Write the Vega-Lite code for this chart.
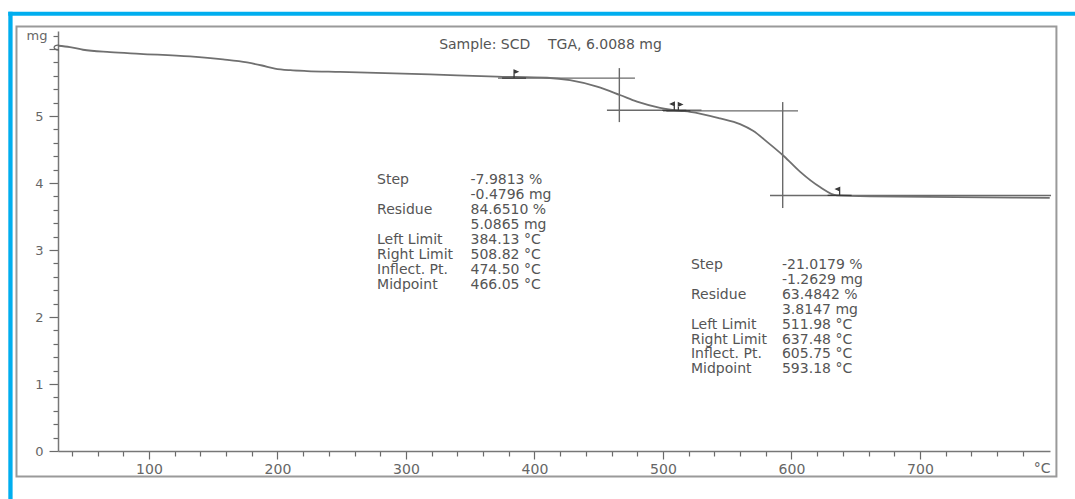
{
  "$schema": "https://vega.github.io/schema/vega-lite/v6.json",
  "width": 992,
  "height": 420,
  "autosize": {"type": "none"},
  "padding": {"left": 58, "top": 31, "right": 25, "bottom": 48},
  "background": "white",
  "config": {
    "view": {"stroke": null},
    "font": "DejaVu Sans",
    "text": {"font": "DejaVu Sans"}
  },
  "datasets": {
    "tga": [
      {"temp": 29.2, "mass": 6.05},
      {"temp": 38.5, "mass": 6.03},
      {"temp": 48.7, "mass": 5.99},
      {"temp": 69.7, "mass": 5.955},
      {"temp": 93.0, "mass": 5.93},
      {"temp": 131.9, "mass": 5.89},
      {"temp": 157.6, "mass": 5.845},
      {"temp": 176.3, "mass": 5.80},
      {"temp": 188.0, "mass": 5.755},
      {"temp": 198.0, "mass": 5.71},
      {"temp": 210.0, "mass": 5.685},
      {"temp": 223.0, "mass": 5.672},
      {"temp": 248.7, "mass": 5.66},
      {"temp": 318.7, "mass": 5.622},
      {"temp": 370.8, "mass": 5.59},
      {"temp": 409.8, "mass": 5.572},
      {"temp": 427.6, "mass": 5.537},
      {"temp": 448.7, "mass": 5.44},
      {"temp": 466.5, "mass": 5.315},
      {"temp": 479.8, "mass": 5.215},
      {"temp": 497.7, "mass": 5.124},
      {"temp": 513.2, "mass": 5.079},
      {"temp": 521.0, "mass": 5.064},
      {"temp": 544.4, "mass": 4.966},
      {"temp": 560.0, "mass": 4.88},
      {"temp": 570.1, "mass": 4.78},
      {"temp": 581.0, "mass": 4.615},
      {"temp": 594.2, "mass": 4.40},
      {"temp": 606.6, "mass": 4.17},
      {"temp": 622.2, "mass": 3.94},
      {"temp": 635.4, "mass": 3.815},
      {"temp": 661.1, "mass": 3.80},
      {"temp": 801.0, "mass": 3.78}
    ],
    "baselines": [
      {"from": 371.6, "to": 478.2, "mass": 5.5661},
      {"from": 456.4, "to": 530.0, "mass": 5.0865},
      {"from": 500.0, "to": 605.1, "mass": 5.0776},
      {"from": 583.3, "to": 802.0, "mass": 3.8147}
    ],
    "midpoints": [
      {"temp": 466.05, "top": 5.716, "bottom": 4.91},
      {"temp": 593.18, "top": 5.209, "bottom": 3.627}
    ],
    "limits": [
      {"temp": 384.13, "mass": 5.5661, "side": "left limit"},
      {"temp": 508.82, "mass": 5.0865, "side": "right limit"},
      {"temp": 511.98, "mass": 5.0776, "side": "left limit"},
      {"temp": 637.48, "mass": 3.8147, "side": "right limit"}
    ],
    "start": [
      {"temp": 29.2, "mass": 6.02}
    ],
    "notes": [
      {"temp": 277.5, "mass": 4.045, "text": "Step"},
      {"temp": 350.2, "mass": 4.045, "text": "-7.9813 %"},
      {"temp": 350.2, "mass": 3.821, "text": "-0.4796 mg"},
      {"temp": 277.5, "mass": 3.597, "text": "Residue"},
      {"temp": 350.2, "mass": 3.597, "text": "84.6510 %"},
      {"temp": 350.2, "mass": 3.373, "text": "5.0865 mg"},
      {"temp": 277.5, "mass": 3.149, "text": "Left Limit"},
      {"temp": 350.2, "mass": 3.149, "text": "384.13 °C"},
      {"temp": 277.5, "mass": 2.925, "text": "Right Limit"},
      {"temp": 350.2, "mass": 2.925, "text": "508.82 °C"},
      {"temp": 277.5, "mass": 2.701, "text": "Inflect. Pt."},
      {"temp": 350.2, "mass": 2.701, "text": "474.50 °C"},
      {"temp": 277.5, "mass": 2.478, "text": "Midpoint"},
      {"temp": 350.2, "mass": 2.478, "text": "466.05 °C"},
      {"temp": 521.8, "mass": 2.776, "text": "Step"},
      {"temp": 592.6, "mass": 2.776, "text": "-21.0179 %"},
      {"temp": 592.6, "mass": 2.552, "text": "-1.2629 mg"},
      {"temp": 521.8, "mass": 2.328, "text": "Residue"},
      {"temp": 592.6, "mass": 2.328, "text": "63.4842 %"},
      {"temp": 592.6, "mass": 2.104, "text": "3.8147 mg"},
      {"temp": 521.8, "mass": 1.888, "text": "Left Limit"},
      {"temp": 592.6, "mass": 1.888, "text": "511.98 °C"},
      {"temp": 521.8, "mass": 1.664, "text": "Right Limit"},
      {"temp": 592.6, "mass": 1.664, "text": "637.48 °C"},
      {"temp": 521.8, "mass": 1.448, "text": "Inflect. Pt."},
      {"temp": 592.6, "mass": 1.448, "text": "605.75 °C"},
      {"temp": 521.8, "mass": 1.224, "text": "Midpoint"},
      {"temp": 592.6, "mass": 1.224, "text": "593.18 °C"}
    ],
    "heading": [
      {"temp": 412.5, "mass": 6.06, "text": "Sample: SCD\u00a0\u00a0\u00a0\u00a0TGA, 6.0088 mg"}
    ]
  },
  "encoding": {
    "x": {
      "type": "quantitative",
      "scale": {"domain": [29.2, 801.2], "nice": false, "zero": false},
      "axis": {
        "values": [40, 60, 80, 100, 120, 140, 160, 180, 200, 220, 240, 260, 280, 300, 320, 340, 360, 380, 400, 420, 440, 460, 480, 500, 520, 540, 560, 580, 600, 620, 640, 660, 680, 700, 720, 740, 760, 780],
        "labelExpr": "datum.value % 100 == 0 ? format(datum.value, 'd') : ''",
        "tickSize": {"condition": {"test": "datum.value % 100 == 0", "value": 8}, "value": 5},
        "grid": false,
        "domainColor": "#777777",
        "domainWidth": 1.5,
        "tickColor": "#6a6a6a",
        "tickWidth": 1.2,
        "labelColor": "#666666",
        "labelFontSize": 14,
        "labelPadding": 3,
        "labelFlush": false,
        "title": "°C",
        "titleAnchor": "end",
        "titleAlign": "right",
        "titleBaseline": "middle",
        "titleY": 17,
        "titleFontWeight": "normal",
        "titleFontSize": 14,
        "titleColor": "#666666"
      }
    },
    "y": {
      "type": "quantitative",
      "scale": {"domain": [0, 6.27], "nice": false, "zero": false},
      "axis": {
        "values": [0, 0.2, 0.4, 0.6, 0.8, 1, 1.2, 1.4, 1.6, 1.8, 2, 2.2, 2.4, 2.6, 2.8, 3, 3.2, 3.4, 3.6, 3.8, 4, 4.2, 4.4, 4.6, 4.8, 5, 5.2, 5.4, 5.6, 5.8, 6, 6.2],
        "labelExpr": "datum.value == 6.2 ? 'mg' : (datum.value % 1 == 0 && datum.value < 6 ? format(datum.value, 'd') : '')",
        "tickSize": {"condition": {"test": "datum.value % 1 == 0", "value": 9}, "value": 5},
        "grid": false,
        "domainColor": "#777777",
        "domainWidth": 1.5,
        "tickColor": "#6a6a6a",
        "tickWidth": 1.2,
        "labelColor": "#666666",
        "labelFontSize": 13,
        "labelPadding": 6,
        "labelFlush": false,
        "title": null
      }
    }
  },
  "layer": [
    {
      "data": {"values": [{}]},
      "mark": {"type": "rect", "fill": null, "stroke": "#9a9a9a", "strokeWidth": 2},
      "encoding": {
        "x": {"datum": -3.1, "type": "quantitative"},
        "x2": {"datum": 806.2},
        "y": {"datum": -0.381, "type": "quantitative"},
        "y2": {"datum": 6.336}
      }
    },
    {
      "data": {"values": [{}]},
      "mark": {"type": "rule", "color": "#00AEEF", "strokeWidth": 4, "strokeCap": "butt"},
      "encoding": {
        "x": {"datum": -9.5, "type": "quantitative"},
        "x2": {"datum": 822},
        "y": {"datum": 6.527, "type": "quantitative"}
      }
    },
    {
      "data": {"values": [{}]},
      "mark": {"type": "rule", "color": "#00AEEF", "strokeWidth": 4.3, "strokeCap": "butt"},
      "encoding": {
        "x": {"datum": -7.8, "type": "quantitative"},
        "y": {"datum": 6.557, "type": "quantitative"},
        "y2": {"datum": -0.75}
      }
    },
    {
      "data": {"name": "baselines"},
      "mark": {"type": "rule", "color": "#6a6a6a", "strokeWidth": 1.4},
      "encoding": {
        "x": {"field": "from", "type": "quantitative"},
        "x2": {"field": "to"},
        "y": {"field": "mass", "type": "quantitative"}
      }
    },
    {
      "data": {"name": "midpoints"},
      "mark": {"type": "rule", "color": "#6a6a6a", "strokeWidth": 1.4},
      "encoding": {
        "x": {"field": "temp", "type": "quantitative"},
        "y": {"field": "top", "type": "quantitative"},
        "y2": {"field": "bottom"}
      }
    },
    {
      "data": {"name": "tga"},
      "mark": {"type": "line", "color": "#707070", "strokeWidth": 1.8, "interpolate": "monotone"},
      "encoding": {
        "x": {"field": "temp", "type": "quantitative"},
        "y": {"field": "mass", "type": "quantitative"}
      }
    },
    {
      "data": {"name": "start"},
      "mark": {"type": "point", "filled": false, "stroke": "#666666", "strokeWidth": 1.3, "opacity": 1, "size": 25, "shape": "M0.4,-1 C-2,-1.4 -2.4,0.9 0.4,0.9"},
      "encoding": {
        "x": {"field": "temp", "type": "quantitative"},
        "y": {"field": "mass", "type": "quantitative"}
      }
    },
    {
      "data": {"name": "limits"},
      "mark": {"type": "point", "filled": true, "fill": "#3a3a3a", "stroke": "#3a3a3a", "strokeWidth": 1.3, "opacity": 1, "size": 64},
      "encoding": {
        "x": {"field": "temp", "type": "quantitative"},
        "y": {"field": "mass", "type": "quantitative"},
        "shape": {
          "field": "side",
          "type": "nominal",
          "scale": {
            "domain": ["left limit", "right limit"],
            "range": ["M-3,0H3M0,0V-2M0,-2L0.9,-1.6L0,-1.2Z", "M-3,0H3M0,0V-2M0,-2L-0.9,-1.6L0,-1.2Z"]
          },
          "legend": null
        }
      }
    },
    {
      "data": {"name": "notes"},
      "mark": {"type": "text", "align": "left", "baseline": "middle", "fontSize": 14, "color": "#555555"},
      "encoding": {
        "x": {"field": "temp", "type": "quantitative"},
        "y": {"field": "mass", "type": "quantitative"},
        "text": {"field": "text", "type": "nominal"}
      }
    },
    {
      "data": {"name": "heading"},
      "mark": {"type": "text", "align": "center", "baseline": "middle", "fontSize": 14, "color": "#555555"},
      "encoding": {
        "x": {"field": "temp", "type": "quantitative"},
        "y": {"field": "mass", "type": "quantitative"},
        "text": {"field": "text", "type": "nominal"}
      }
    }
  ]
}
